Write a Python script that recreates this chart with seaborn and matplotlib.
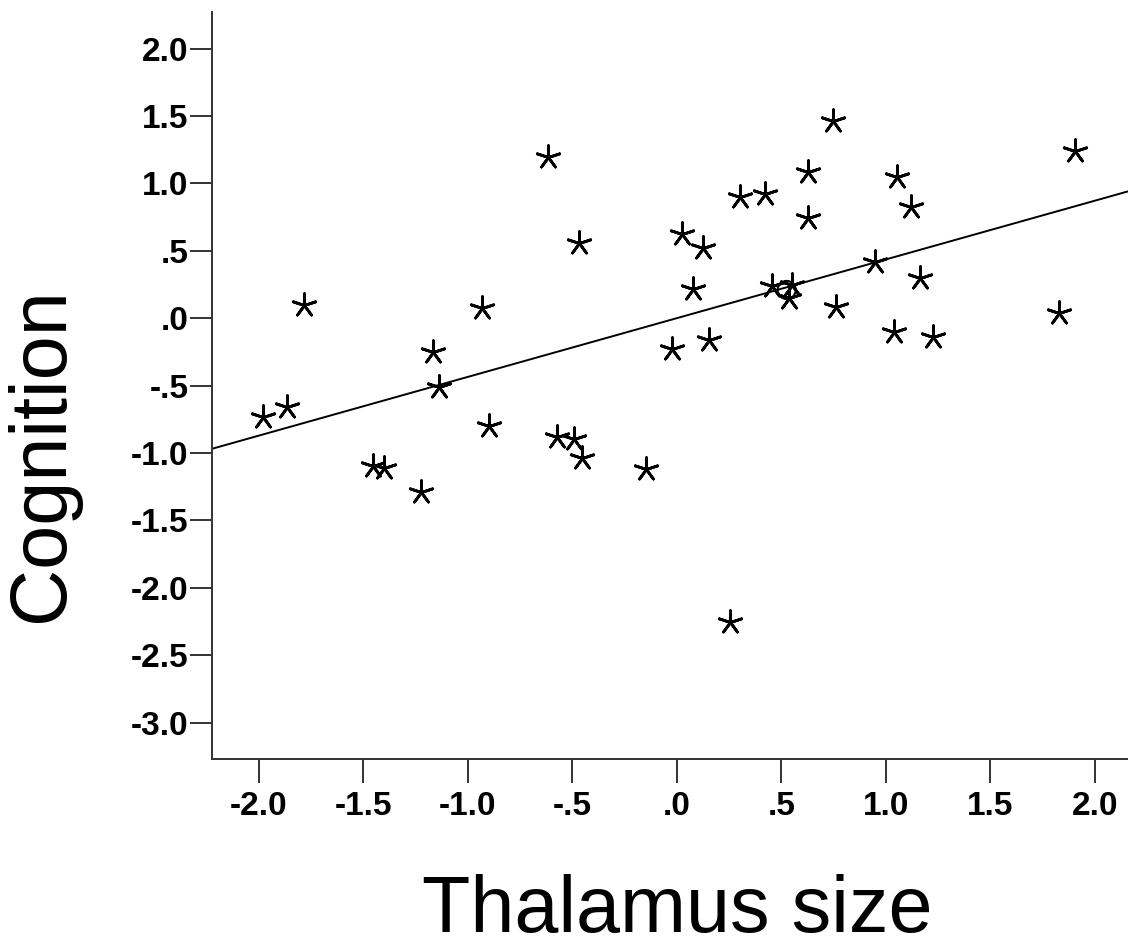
import numpy as np
import pandas as pd
import matplotlib
matplotlib.use("Agg")
import matplotlib.pyplot as plt
import seaborn as sns

# Standardised values
thalamus = [-1.981, -1.866, -1.782, -1.452, -1.400, -1.225, -1.165, -1.136, -0.933, -0.897,
            -0.614, -0.571, -0.491, -0.467, -0.455, -0.148, -0.021, 0.024, 0.077, 0.127,
            0.155, 0.255, 0.303, 0.422, 0.455, 0.550, 0.539, 0.627, 0.630, 0.746,
            0.761, 0.949, 1.041, 1.053, 1.120, 1.164, 1.228, 1.831, 1.906]
cognition = [-0.734, -0.656, 0.099, -1.096, -1.113, -1.291, -0.248, -0.507, 0.074, -0.797,
             1.199, -0.878, -0.898, 0.556, -1.039, -1.120, -0.230, 0.625, 0.215, 0.519,
             -0.161, -2.251, 0.898, 0.920, 0.240, 0.247, 0.148, 0.742, 1.088, 1.466,
             0.082, 0.420, -0.099, 1.050, 0.823, 0.297, -0.136, 0.042, 1.243]

# one case drawn with an open circle
circle_x = [0.526]
circle_y = [0.210]

x_ticks = [-2.0, -1.5, -1.0, -0.5, 0.0, 0.5, 1.0, 1.5, 2.0]
x_tick_labels = ["-2.0", "-1.5", "-1.0", "-.5", ".0", ".5", "1.0", "1.5", "2.0"]
y_ticks = [2.0, 1.5, 1.0, 0.5, 0.0, -0.5, -1.0, -1.5, -2.0, -2.5, -3.0]
y_tick_labels = ["2.0", "1.5", "1.0", ".5", ".0", "-.5", "-1.0", "-1.5", "-2.0", "-2.5", "-3.0"]

df = pd.DataFrame({"Thalamus size": thalamus, "Cognition": cognition})

sns.set_style("white")
plt.rcParams["font.family"] = ["Liberation Sans", "DejaVu Sans"]
plt.rcParams["text.color"] = "black"
plt.rcParams["axes.labelcolor"] = "black"
plt.rcParams["xtick.color"] = "black"
plt.rcParams["ytick.color"] = "black"

fig = plt.figure(figsize=(11.28, 9.49), dpi=100)
ax = fig.add_axes([0.1882, 0.2, 0.8118, 0.7877])
ax.set_xlim(-2.222, 2.159)
ax.set_ylim(-3.272, 2.275)

sns.regplot(data=df, x="Thalamus size", y="Cognition", ax=ax, ci=None, truncate=False,
            color="black", marker=(5, 2, 0),
            scatter_kws={"s": 290, "linewidths": 2.0, "alpha": 1},
            line_kws={"linewidth": 1.4})
ax.scatter(circle_x, circle_y, marker="o", s=170,
           facecolors="none", edgecolors="black", linewidths=1.5, zorder=3)

ax.set_xlim(-2.222, 2.159)
ax.set_ylim(-3.272, 2.275)

ax.set_xticks(x_ticks)
ax.set_xticklabels(x_tick_labels, fontsize=24, fontweight="bold")
ax.set_yticks(y_ticks)
ax.set_yticklabels(y_tick_labels, fontsize=24, fontweight="bold")
ax.tick_params(axis="x", length=17, width=1.4, color="#333333", pad=6, bottom=True)
ax.tick_params(axis="y", length=16, width=1.4, color="#333333", pad=1, left=True)

for side in ["top", "right"]:
    ax.spines[side].set_visible(False)
for side in ["left", "bottom"]:
    ax.spines[side].set_linewidth(1.4)
    ax.spines[side].set_color("#333333")

ax.set_xlabel("Thalamus size", fontsize=57)
ax.set_ylabel("Cognition", fontsize=57)
ax.xaxis.set_label_coords(0.5075, -0.153)
ax.yaxis.set_label_coords(-0.1445, 0.408)

fig.savefig("out.png", dpi=100)
